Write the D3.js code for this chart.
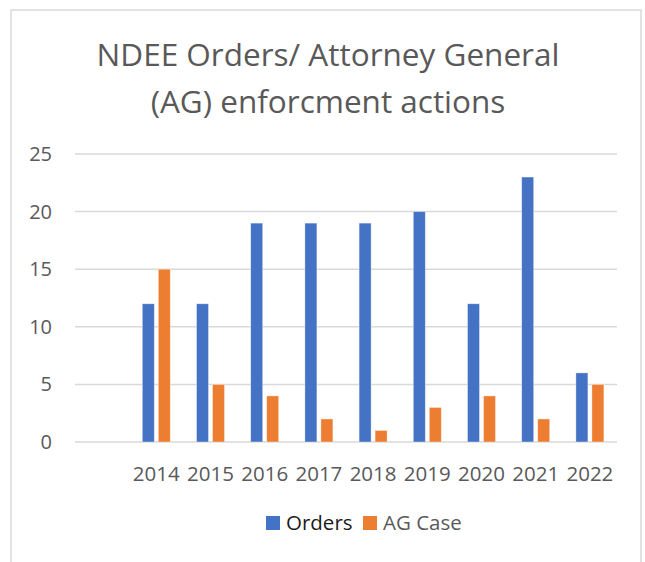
<!DOCTYPE html>
<html>
<head>
<meta charset="utf-8">
<script src="https://cdn.jsdelivr.net/npm/d3@7"></script>
<style>
  body { margin: 0; background: #fff; }
  text { font-family: "Open Sans", sans-serif; fill: #595959; }
</style>
</head>
<body>
<div id="chart"></div>
<script>
// first slot is an empty category, like in the sheet
var years = ["", "2014", "2015", "2016", "2017", "2018", "2019", "2020", "2021", "2022"];
var orders = [null, 12, 12, 19, 19, 19, 20, 12, 23, 6];
var agCase = [null, 15, 5, 4, 2, 1, 3, 4, 2, 5];
var seriesNames = ["Orders", "AG Case"];
var colors = ["#4472C4", "#ED7D31"];
var yTicks = [0, 5, 10, 15, 20, 25];

var W = 645, H = 562;
var margin = { top: 154, right: 28, bottom: 120, left: 75 };
var width = W - margin.left - margin.right;
var height = H - margin.top - margin.bottom;

var svg = d3.select("#chart").append("svg")
    .attr("width", W)
    .attr("height", H);

// chart frame
svg.append("rect")
    .attr("x", 11).attr("y", 10)
    .attr("width", 630).attr("height", 600)
    .attr("fill", "none")
    .attr("stroke", "#d9d9d9")
    .attr("stroke-width", 1.5);

svg.append("text")
    .attr("x", 328).attr("y", 66)
    .attr("text-anchor", "middle")
    .style("font-size", "31.5px")
    .text("NDEE Orders/ Attorney General");
svg.append("text")
    .attr("x", 328).attr("y", 113)
    .attr("text-anchor", "middle")
    .style("font-size", "31.5px")
    .text("(AG) enforcment actions");

var g = svg.append("g")
    .attr("transform", "translate(" + margin.left + "," + margin.top + ")");

var x = d3.scaleBand().domain(years).range([0, width]);
var y = d3.scaleLinear().domain([0, 25]).range([height, 0]);

// gridlines
g.selectAll(".grid")
    .data(yTicks)
    .enter().append("line")
    .attr("x1", 0).attr("x2", width)
    .attr("y1", function(d) { return y(d); })
    .attr("y2", function(d) { return y(d); })
    .attr("stroke", "#d9d9d9")
    .attr("stroke-width", 1.5);

g.selectAll(".ylab")
    .data(yTicks)
    .enter().append("text")
    .attr("x", -23)
    .attr("y", function(d) { return y(d); })
    .attr("dy", "0.35em")
    .attr("text-anchor", "end")
    .style("font-size", "20px")
    .text(function(d) { return d; });

g.selectAll(".xlab")
    .data(years)
    .enter().append("text")
    .attr("x", function(d) { return x(d) + x.bandwidth() / 2; })
    .attr("y", height + 39)
    .attr("text-anchor", "middle")
    .style("font-size", "20.5px")
    .text(function(d) { return d; });

var barW = 12, gap = 4;
[orders, agCase].forEach(function(vals, s) {
    g.selectAll(".bar" + s)
        .data(years.map(function(d, i) { return { year: d, v: vals[i] }; })
              .filter(function(d) { return d.v != null; }))
        .enter().append("rect")
        .attr("x", function(d) {
            var c = x(d.year) + x.bandwidth() / 2;
            return s === 0 ? c - gap / 2 - barW : c + gap / 2;
        })
        .attr("y", function(d) { return y(d.v); })
        .attr("width", barW)
        .attr("height", function(d) { return height - y(d.v); })
        .attr("fill", colors[s])
        .attr("stroke", "#fff")
        .attr("stroke-opacity", 0.5)
        .attr("stroke-width", 0.75);
});

// legend
var legend = svg.append("g").attr("transform", "translate(266,516)");
var lx = [0, 97];
seriesNames.forEach(function(name, i) {
    legend.append("rect")
        .attr("x", lx[i]).attr("y", 0)
        .attr("width", 14).attr("height", 14)
        .attr("fill", colors[i]);
    legend.append("text")
        .attr("x", lx[i] + 20).attr("y", 7)
        .attr("dy", "0.35em")
        .style("font-size", "20.5px")
        .style("fill", i === 0 ? "#1a1a1a" : "#595959")
        .text(name);
});
</script>
</body>
</html>
